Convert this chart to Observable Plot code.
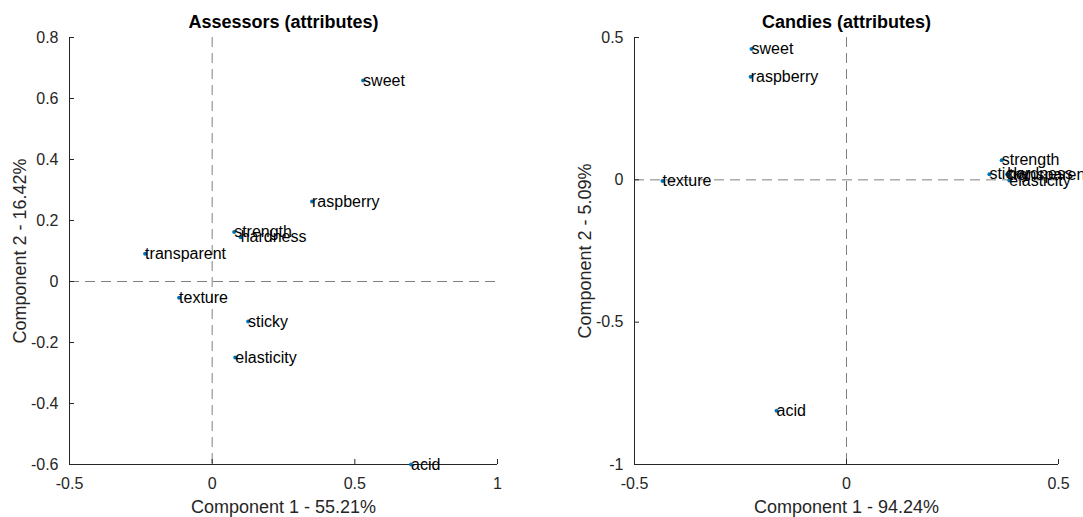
<!DOCTYPE html>
<html>
<head>
<meta charset="utf-8">
<script src="https://cdn.jsdelivr.net/npm/d3@7"></script>
<script src="https://cdn.jsdelivr.net/npm/@observablehq/plot@0.6"></script>
<style>
  html, body { margin: 0; padding: 0; background: #fff; overflow: hidden; }
  #row { display: flex; flex-direction: row; width: 1083px; height: 517px; }
  svg { overflow: hidden; }
</style>
</head>
<body>
<div id="row"></div>
<script>
// Left panel: Assessors (attributes)
const assessorNames = ["sweet", "raspberry", "strength", "hardness", "transparent", "texture", "sticky", "elasticity", "acid"];
const assessorX = [0.529, 0.350, 0.077, 0.100, -0.235, -0.116, 0.126, 0.081, 0.697];
const assessorY = [0.659, 0.262, 0.162, 0.145, 0.091, -0.053, -0.131, -0.249, -0.600];
const assessorXTicks = [-0.5, 0, 0.5, 1];
const assessorYTicks = [0.8, 0.6, 0.4, 0.2, 0, -0.2, -0.4, -0.6];

// Right panel: Candies (attributes)
const candyNames = ["sweet", "raspberry", "texture", "acid", "strength", "sticky", "hardness", "transparent", "elasticity"];
const candyX = [-0.224, -0.226, -0.434, -0.165, 0.366, 0.337, 0.379, 0.383, 0.384];
const candyY = [0.460, 0.362, -0.004, -0.811, 0.069, 0.020, 0.020, 0.017, -0.002];
const candyXTicks = [-0.5, 0, 0.5];
const candyYTicks = [0.5, 0, -0.5, -1];

const FONT = "'Liberation Sans', Arial, Helvetica, sans-serif";

function panel({names, xs, ys, xTicks, yTicks, xDomain, yDomain, title, xLabel, yLabel, width, marginLeft, marginRight}) {
  const data = names.map((n, i) => ({name: n, x: xs[i], y: ys[i]}));
  return Plot.plot({
    width, height: 517,
    marginLeft, marginRight, marginTop: 37, marginBottom: 53,
    style: {fontFamily: FONT, fontSize: "16px", color: "#262626", background: "#fff"},
    x: {domain: xDomain, ticks: xTicks, label: null},
    y: {domain: yDomain, ticks: yTicks, label: null},
    marks: [
      Plot.ruleX([0], {stroke: "#808080", strokeDasharray: "10,6", strokeWidth: 1}),
      Plot.ruleY([0], {stroke: "#808080", strokeDasharray: "10,6", strokeWidth: 1}),
      Plot.axisX(xTicks, {anchor: "bottom", tickSize: -5, tickPadding: 18, fontSize: 16, tickFormat: d => String(d), label: null, stroke: "#262626", fill: "#262626"}),
      Plot.axisY(yTicks, {anchor: "left", tickSize: -5, tickPadding: 16, fontSize: 16, tickFormat: d => String(d), label: null, stroke: "#262626", fill: "#262626"}),
      Plot.ruleX([xDomain[0]], {stroke: "#262626", strokeWidth: 1}),
      Plot.ruleY([yDomain[0]], {stroke: "#262626", strokeWidth: 1}),
      Plot.dot(data, {x: "x", y: "y", r: 2, fill: "#0072BD", stroke: null}),
      Plot.text(data, {x: "x", y: "y", text: "name", textAnchor: "start", dx: 0, dy: 0, fontSize: 16, fill: "#000"}),
      Plot.text([title], {frameAnchor: "top", lineAnchor: "middle", textAnchor: "middle", dy: -15, fontSize: 18, fontWeight: "bold", fill: "#000"}),
      Plot.text([xLabel], {frameAnchor: "bottom", lineAnchor: "middle", textAnchor: "middle", dy: 43, fontSize: 18, fill: "#262626"}),
      Plot.text([yLabel], {frameAnchor: "left", lineAnchor: "middle", textAnchor: "middle", dx: -49, rotate: -90, fontSize: 18, fill: "#262626"})
    ]
  });
}

const row = document.getElementById("row");
row.appendChild(panel({
  names: assessorNames, xs: assessorX, ys: assessorY,
  xTicks: assessorXTicks, yTicks: assessorYTicks,
  xDomain: [-0.5, 1], yDomain: [-0.6, 0.8],
  title: "Assessors (attributes)",
  xLabel: "Component 1 - 55.21%", yLabel: "Component 2 - 16.42%",
  width: 541, marginLeft: 69, marginRight: 44
}));
row.appendChild(panel({
  names: candyNames, xs: candyX, ys: candyY,
  xTicks: candyXTicks, yTicks: candyYTicks,
  xDomain: [-0.5, 0.5], yDomain: [-1, 0.5],
  title: "Candies (attributes)",
  xLabel: "Component 1 - 94.24%", yLabel: "Component 2 - 5.09%",
  width: 542, marginLeft: 93, marginRight: 25
}));
</script>
</body>
</html>
